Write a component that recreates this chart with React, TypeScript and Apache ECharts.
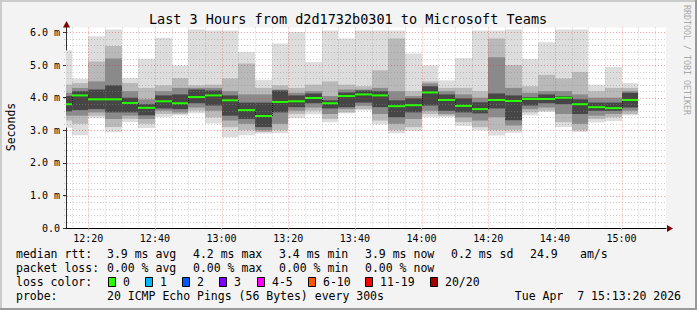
import { useEffect, useRef } from "react";
import * as echarts from "echarts";

// ---------- text ----------
const TITLE = "Last 3 Hours from d2d1732b0301 to Microsoft Teams";
const Y_AXIS_NAME = "Seconds";
const WATERMARK = "RRDTOOL / TOBI OETIKER";

// ---------- axes ----------
const X_START = "12:13:20";
const X_END = "15:13:20";
const STEP_MIN = 5;
const Y_MAX = 6.15;
const xTickLabels = ["12:20", "12:40", "13:00", "13:20", "13:40", "14:00", "14:20", "14:40", "15:00"];
const yTickValues = [0, 1, 2, 3, 4, 5, 6];
const yTickLabels = ["0.0", "1.0 m", "2.0 m", "3.0 m", "4.0 m", "5.0 m", "6.0 m"];

// ---------- data (ms) : each bar ends at barTimes[i] and covers the previous 5 minutes ----------
const barTimes = [
  "12:15", "12:20", "12:25", "12:30", "12:35", "12:40", "12:45", "12:50", "12:55",
  "13:00", "13:05", "13:10", "13:15", "13:20", "13:25", "13:30", "13:35", "13:40",
  "13:45", "13:50", "13:55", "14:00", "14:05", "14:10", "14:15", "14:20", "14:25",
  "14:30", "14:35", "14:40", "14:45", "14:50", "14:55", "15:00", "15:05",
];
const pingMax = [5.45, 4.58, 5.88, 6.09, 4.6, 5.19, 5.83, 4.99, 6.09, 6.06, 6.06, 5.4, 4.55, 5.66, 6.01, 5.09, 6.06, 5.81, 6.06, 6.06, 6.06, 5.35, 4.99, 4.53, 5.21, 6.06, 6.06, 6.09, 5.19, 5.7, 6.09, 6.09, 4.4, 4.94, 4.45];
const smokeHi2 = [4.4, 4.45, 5.11, 5.58, 4.45, 4.3, 4.38, 4.6, 4.38, 4.4, 4.59, 5.05, 4.3, 4.38, 4.3, 4.4, 4.5, 4.4, 4.35, 4.84, 5.81, 4.2, 4.5, 4.3, 4.3, 4.2, 5.81, 5.0, 4.35, 4.7, 4.59, 4.79, 4.2, 4.3, 4.3];
const smokeHi3 = [4.15, 4.3, 4.5, 5.2, 4.2, 3.95, 4.2, 4.3, 4.3, 4.3, 4.2, 4.1, 4.1, 4.25, 4.15, 4.2, 4.05, 4.25, 4.25, 4.3, 4.2, 4.05, 4.44, 4.2, 4.1, 4.0, 5.24, 4.3, 4.15, 4.2, 4.2, 4.1, 4.0, 4.0, 4.2];
const smokeHi4 = [4.05, 4.2, 4.25, 4.38, 4.0, 3.8, 4.07, 4.1, 4.25, 4.22, 4.07, 3.85, 3.85, 4.22, 4.07, 4.13, 3.92, 4.16, 4.22, 4.2, 3.92, 3.98, 4.35, 4.1, 3.98, 3.86, 4.13, 4.07, 4.01, 4.1, 4.05, 3.95, 3.85, 3.85, 4.15];
const medianRtt = [3.8, 4.07, 3.95, 3.95, 3.84, 3.69, 3.89, 3.83, 4.02, 4.07, 3.92, 3.62, 3.44, 3.87, 3.89, 3.99, 3.83, 4.05, 4.1, 4.07, 3.74, 3.77, 4.16, 3.93, 3.75, 3.65, 3.93, 3.9, 3.96, 3.96, 4.0, 3.8, 3.71, 3.68, 3.93];
const smokeLo4 = [3.58, 3.62, 3.65, 3.55, 3.55, 3.46, 3.67, 3.65, 3.83, 3.76, 3.45, 3.35, 3.1, 3.55, 3.71, 3.83, 3.67, 3.71, 3.85, 3.71, 3.4, 3.55, 3.76, 3.6, 3.55, 3.52, 3.67, 3.31, 3.76, 3.83, 3.8, 3.5, 3.6, 3.6, 3.7];
const smokeLo3 = [3.45, 3.45, 3.55, 3.35, 3.45, 3.35, 3.6, 3.55, 3.7, 3.6, 3.3, 3.2, 3.0, 3.2, 3.6, 3.7, 3.5, 3.65, 3.75, 3.5, 3.2, 3.35, 3.6, 3.5, 3.4, 3.3, 3.4, 3.15, 3.65, 3.7, 3.5, 3.2, 3.45, 3.5, 3.6];
const smokeLo2 = [3.3, 3.2, 3.45, 3.1, 3.35, 3.2, 3.5, 3.5, 3.6, 3.4, 3.1, 3.0, 2.95, 3.0, 3.5, 3.6, 3.35, 3.55, 3.65, 3.3, 3.0, 3.1, 3.5, 3.45, 3.25, 3.1, 3.0, 3.0, 3.55, 3.6, 3.25, 3.0, 3.35, 3.4, 3.5];
const pingMin = [3.08, 2.85, 3.37, 2.94, 3.25, 3.07, 3.41, 3.46, 3.52, 3.21, 2.79, 2.85, 2.9, 2.91, 3.37, 3.49, 3.25, 3.52, 3.61, 3.18, 2.91, 2.98, 3.41, 3.41, 3.13, 3.0, 2.84, 2.93, 3.46, 3.56, 3.1, 2.95, 3.24, 3.29, 3.46];

// ---------- legend ----------
const rttLabel = "median rtt:";
const rttStats = ["3.9 ms avg", "4.2 ms max", "3.4 ms min", "3.9 ms now", "0.2 ms sd", "24.9", "am/s"];
const lossLabel = "packet loss:";
const lossStats = ["0.00 % avg", "0.00 % max", "0.00 % min", "0.00 % now"];
const lossColorLabel = "loss color:";
const lossClasses = ["0", "1", "2", "3", "4-5", "6-10", "11-19", "20/20"];
const lossColors = ["#26ff00", "#00b8ff", "#0059ff", "#7e00ff", "#ff00ff", "#ff5500", "#ff0000", "#a10000"];
const probeLabel = "probe:";
const probeText = "20 ICMP Echo Pings (56 Bytes) every 300s";
const stampText = "Tue Apr  7 15:13:20 2026";

// ---------- styling / layout ----------
const MONO = "'DejaVu Sans Mono', monospace";
const SMOKE_COLORS = ["#dddddd", "#b9b9b9", "#8a8a8a", "#464646"];
const rttX = [107, 193, 279, 365, 451, 530, 580];
const lossX = [107, 193, 279, 365];
const boxX = [108, 145, 182, 219, 257, 308, 365, 430];

function toMin(s: string): number {
  const p = s.split(":").map(Number);
  return p[0] * 60 + p[1] + (p[2] || 0) / 60;
}
function fmtMin(v: number): string {
  const h = Math.floor(v / 60);
  const m = Math.round(v - h * 60);
  return `${h}:${m < 10 ? "0" : ""}${m}`;
}

export default function App() {
  const ref = useRef<HTMLDivElement>(null);

  useEffect(() => {
    document.body.style.margin = "0";
    const st = document.createElement("style");
    st.textContent = "svg text { white-space: pre; }";
    document.head.appendChild(st);

    const el = ref.current!;
    const chart = echarts.init(el, null, { renderer: "svg" });

    const xMin = toMin(X_START);
    const xMax = toMin(X_END);
    const xTickValues = xTickLabels.map(toMin);

    const smokeData = barTimes.map((t, i) => [
      toMin(t), pingMax[i], smokeHi2[i], smokeHi3[i], smokeHi4[i],
      smokeLo4[i], smokeLo3[i], smokeLo2[i], pingMin[i],
    ]);
    const medianData = barTimes.map((t, i) => [toMin(t), medianRtt[i]]);

    // grid line positions (5-minute minor, 20-minute major; 0.2 ms minor, 1 ms major)
    const vGrid: number[][] = [];
    for (let t = Math.ceil(xMin / STEP_MIN) * STEP_MIN; t < xMax; t += STEP_MIN) {
      vGrid.push([t, xTickValues.indexOf(t) >= 0 ? 1 : 0]);
    }
    const hGrid: number[][] = [];
    for (let k = 1; k <= 30; k++) {
      hGrid.push([xMin, k / 5, k % 5 === 0 ? 1 : 0]);
    }

    const option: any = {
      animation: false,
      backgroundColor: "#f3f3f3",
      grid: {
        left: 66, right: 31, top: 27.5, bottom: 81.7,
        show: true, backgroundColor: "#ffffff", borderWidth: 0,
      },
      xAxis: {
        type: "value",
        min: xMin,
        max: xMax,
        splitLine: { show: false },
        axisLine: { show: true, lineStyle: { color: "#000000", width: 1 } },
        axisTick: { show: true, customValues: xTickValues, length: 2, lineStyle: { color: "#e0a0a0" } },
        axisLabel: {
          customValues: xTickValues,
          formatter: (v: number) => fmtMin(v),
          fontFamily: MONO, fontSize: 10, color: "#000", margin: 5,
        },
      },
      yAxis: {
        type: "value",
        min: 0,
        max: Y_MAX,
        interval: 1,
        splitLine: { show: false },
        axisLine: { show: true, lineStyle: { color: "#303030", width: 1 } },
        axisTick: { show: true, customValues: yTickValues, length: 3, lineStyle: { color: "#303030" } },
        axisLabel: {
          customValues: yTickValues,
          formatter: (v: number) => {
            const i = yTickValues.indexOf(Math.round(v * 1000) / 1000);
            return i >= 0 ? yTickLabels[i] : "";
          },
          fontFamily: MONO, fontSize: 10, color: "#000", margin: 6,
        },
      },
      series: [
        {
          type: "custom",
          name: "smoke",
          z: 1,
          silent: true,
          data: smokeData,
          renderItem: (params: any, api: any) => {
            const cs = params.coordSys;
            const t = api.value(0);
            const xa = Math.round(Math.max(api.coord([t - STEP_MIN, 0])[0], cs.x));
            const xb = Math.round(Math.min(api.coord([t, 0])[0], cs.x + cs.width));
            const yOf = (v: number) => Math.max(api.coord([t, v])[1], cs.y);
            const children = SMOKE_COLORS.map((c, k) => {
              const y1 = yOf(api.value(1 + k));
              const y2 = yOf(api.value(8 - k));
              return {
                type: "rect",
                shape: { x: xa, y: y1, width: xb - xa, height: Math.max(0, y2 - y1) },
                style: { fill: c },
              };
            });
            return { type: "group", children };
          },
        },
        {
          type: "custom",
          name: "vgrid",
          z: 2,
          silent: true,
          data: vGrid,
          renderItem: (params: any, api: any) => {
            const cs = params.coordSys;
            const x = Math.round(api.coord([api.value(0), 0])[0]) + 0.5;
            const major = api.value(1) === 1;
            return {
              type: "line",
              shape: { x1: x, y1: cs.y, x2: x, y2: cs.y + cs.height },
              style: {
                stroke: major ? "rgba(222,48,47,0.45)" : "rgba(143,143,143,0.45)",
                lineWidth: 1,
                lineDash: [1, 2],
              },
            };
          },
        },
        {
          type: "custom",
          name: "hgrid",
          z: 2,
          silent: true,
          data: hGrid,
          renderItem: (params: any, api: any) => {
            const cs = params.coordSys;
            const y = Math.round(api.coord([api.value(0), api.value(1)])[1]) + 0.5;
            const major = api.value(2) === 1;
            return {
              type: "line",
              shape: { x1: cs.x - 2, y1: y, x2: cs.x + cs.width, y2: y },
              style: {
                stroke: major ? "rgba(222,48,47,0.45)" : "rgba(143,143,143,0.45)",
                lineWidth: 1,
                lineDash: [1, 2],
              },
            };
          },
        },
        {
          type: "custom",
          name: "median rtt",
          z: 3,
          silent: true,
          data: medianData,
          renderItem: (params: any, api: any) => {
            const cs = params.coordSys;
            const t = api.value(0);
            const m = api.value(1);
            const xa = Math.round(Math.max(api.coord([t - STEP_MIN, 0])[0], cs.x));
            const xb = Math.round(api.coord([t, 0])[0]);
            const y = api.coord([t, m])[1];
            const children: any[] = [];
            const i = params.dataIndex;
            if (i > 0) {
              const yp = api.coord([t, medianRtt[i - 1]])[1];
              children.push({
                type: "line",
                shape: { x1: xa + 0.5, y1: yp, x2: xa + 0.5, y2: y },
                style: { stroke: "#1a1a1a", lineWidth: 1, lineDash: [1, 1] },
              });
            }
            children.push({
              type: "rect",
              shape: { x: xa, y: y - 1, width: xb - xa, height: 2 },
              style: { fill: lossColors[0] },
            });
            return { type: "group", children };
          },
        },
      ],
      graphic: buildGraphic(),
    };

    chart.setOption(option);
    return () => {
      chart.dispose();
      st.remove();
    };
  }, []);

  return <div ref={ref} style={{ width: 697, height: 310 }} />;
}

function txt(x: number, y: number, text: string, extra: any = {}) {
  return {
    type: "text",
    x,
    y,
    z: 50,
    silent: true,
    style: {
      text,
      fontFamily: MONO,
      fontSize: 11.5,
      fill: "#000000",
      align: "left",
      verticalAlign: "middle",
      textAlign: "left",
      textVerticalAlign: "middle",
      ...extra,
    },
  };
}

function buildGraphic() {
  const els: any[] = [];
  // frame
  els.push({ type: "rect", z: 60, shape: { x: 0, y: 0, width: 697, height: 2 }, style: { fill: "#cbcbcb" } });
  els.push({ type: "rect", z: 60, shape: { x: 0, y: 0, width: 2, height: 310 }, style: { fill: "#cbcbcb" } });
  els.push({ type: "rect", z: 61, shape: { x: 0, y: 308, width: 697, height: 2 }, style: { fill: "#999999" } });
  els.push({ type: "rect", z: 61, shape: { x: 695, y: 0, width: 2, height: 310 }, style: { fill: "#999999" } });

  // title
  els.push(txt(348, 19, TITLE, { fontSize: 13.5, align: "center", textAlign: "center" }));
  // y axis name
  els.push({
    ...txt(11, 127, Y_AXIS_NAME, { fontSize: 11.5, align: "center", textAlign: "center" }),
    rotation: Math.PI / 2,
  });
  // watermark
  els.push({
    ...txt(687, 60, WATERMARK, { fontSize: 8.3, fill: "#a8a8a8", align: "center", textAlign: "center" }),
    rotation: -Math.PI / 2,
  });

  // axis arrows
  els.push({
    type: "polygon", z: 70,
    shape: { points: [[667, 225], [673, 228.5], [667, 232]] },
    style: { fill: "#7f0000" },
  });
  els.push({
    type: "polygon", z: 70,
    shape: { points: [[63, 27.5], [66.5, 21], [70, 27.5]] },
    style: { fill: "#7f0000" },
  });

  // legend rows
  const r1 = 254, r2 = 268, r3 = 282, r4 = 296;
  els.push(txt(16, r1, rttLabel));
  rttStats.forEach((s, i) => els.push(txt(rttX[i], r1, s)));
  els.push(txt(16, r2, lossLabel));
  lossStats.forEach((s, i) => els.push(txt(lossX[i], r2, s)));
  els.push(txt(16, r3, lossColorLabel));
  lossClasses.forEach((s, i) => {
    els.push({
      type: "rect", z: 50,
      shape: { x: boxX[i] + 0.5, y: r3 - 4.5, width: 7, height: 9 },
      style: { fill: lossColors[i], stroke: "#000000", lineWidth: 1 },
    });
    els.push(txt(boxX[i] + 15, r3, s));
  });
  els.push(txt(16, r4, probeLabel));
  els.push(txt(107, r4, probeText));
  els.push(txt(681, r4, stampText, { align: "right", textAlign: "right" }));
  return els;
}
